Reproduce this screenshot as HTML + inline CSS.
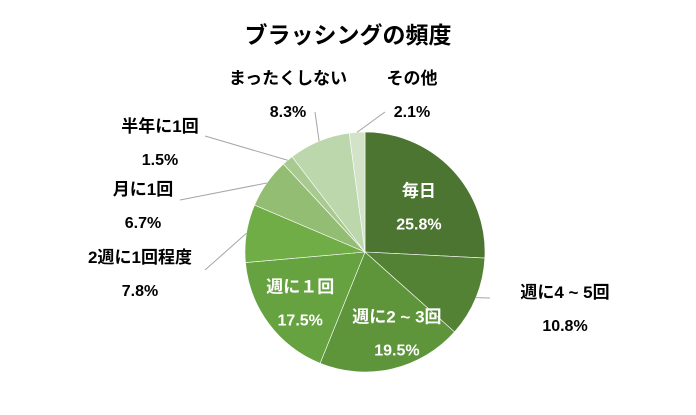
<!DOCTYPE html>
<html><head><meta charset="utf-8"><style>
body{margin:0;background:#fff;}
svg text{font-family:"Liberation Sans","Noto Sans CJK JP",sans-serif;font-weight:bold;}
</style></head><body>
<svg id="chart" width="696" height="410">
<text x="348" y="43" text-anchor="middle" font-size="23" fill="#000">ブラッシングの頻度</text>
<g id="slices"></g>
<g id="labels"></g>
</svg>
<script>
const categories=["毎日","週に4 ~ 5回","週に2 ~ 3回","週に１回","2週に1回程度","月に1回","半年に1回","まったくしない","その他"];
const values=[25.8,10.8,19.5,17.5,7.8,6.7,1.5,8.3,2.1];
const valueLabels=["25.8%","10.8%","19.5%","17.5%","7.8%","6.7%","1.5%","8.3%","2.1%"];
const colors=["#4b7530","#548235","#5e943a","#66a240","#70ad47","#93bd72","#a8ca90","#bdd7ad","#d3e3c8"];
const cx=365,cy=252,r=120;
const ns="http://www.w3.org/2000/svg";
const total=values.reduce((a,b)=>a+b,0);
const gs=document.getElementById('slices'),gl=document.getElementById('labels');
function pt(a,rr){return [cx+rr*Math.sin(a),cy-rr*Math.cos(a)];}
const inside=[true,false,true,true,false,false,false,false,false];
const outPos=[null,[565,298,"middle"],null,null,[140,263,"middle"],[143,195,"middle"],[160,132,"middle"],[288,84,"middle"],[412,84,"middle"]];
const lineEnd=[null,[490,298],null,null,[205,270],[180,200],[205,136],[315,112],[385,112]];
let acc=0;
values.forEach((v,i)=>{
  const a0=acc/total*2*Math.PI; acc+=v; const a1=acc/total*2*Math.PI;
  const p0=pt(a0,r),p1=pt(a1,r);
  const path=document.createElementNS(ns,'path');
  path.setAttribute('d',`M${cx},${cy}L${p0[0]},${p0[1]}A${r},${r} 0 ${a1-a0>Math.PI?1:0} 1 ${p1[0]},${p1[1]}Z`);
  path.setAttribute('fill',colors[i]);path.setAttribute('stroke','#fff');path.setAttribute('stroke-width','0.6');
  
  
  gs.appendChild(path);
  const am=(a0+a1)/2;
  let lx,ly,anchor="middle",fill;
  if(inside[i]){const p=pt(am,r*0.62);lx=p[0];ly=p[1]-4;fill="#fff";
    if(i==3){lx-=5;} if(i==2){lx+=15;ly+=2;}
  } else {lx=outPos[i][0];ly=outPos[i][1];fill="#000";
    const e=pt(am,r);const ln=document.createElementNS(ns,'polyline');
    ln.setAttribute('points',`${e[0]},${e[1]} ${lineEnd[i][0]},${lineEnd[i][1]}`);
    ln.setAttribute('stroke','#a6a6a6');ln.setAttribute('fill','none');
    
    
    gl.appendChild(ln);}
  const t1=document.createElementNS(ns,'text');
  t1.setAttribute('x',lx);t1.setAttribute('y',ly);t1.setAttribute('text-anchor',anchor);
  t1.setAttribute('font-size','17');t1.setAttribute('fill',fill);t1.textContent=categories[i];
  
  
  gl.appendChild(t1);
  const t2=document.createElementNS(ns,'text');
  t2.setAttribute('x',lx);t2.setAttribute('y',ly+33);t2.setAttribute('text-anchor',anchor);
  t2.setAttribute('font-size','16');t2.setAttribute('fill',fill);t2.textContent=valueLabels[i];
  
  
  gl.appendChild(t2);
});
</script>
</body></html>
